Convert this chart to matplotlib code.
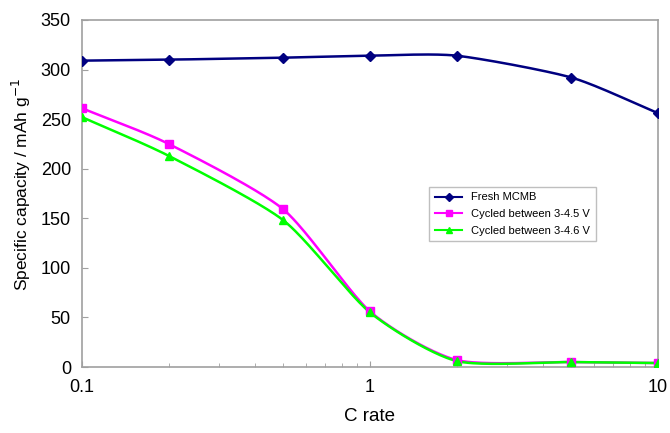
import numpy as np
import matplotlib.pyplot as plt
from matplotlib.ticker import FixedLocator, NullFormatter

plt.rcParams["font.family"] = ["Liberation Sans", "DejaVu Sans"]

c_rate = [0.1, 0.2, 0.5, 1, 2, 5, 10]
fresh = [309, 310, 312, 314, 314, 292, 256]
cycled_45 = [261, 225, 159, 56, 7, 5, 4]
cycled_46 = [252, 213, 148, 55, 6, 5, 4]


def smooth_curve(x, y, n=40):
    # Catmull-Rom through the points in log-x space (like Excel's smoothed line)
    lx = np.log10(np.asarray(x, dtype=float))
    yy = np.asarray(y, dtype=float)
    px = np.concatenate([[2 * lx[0] - lx[1]], lx, [2 * lx[-1] - lx[-2]]])
    py = np.concatenate([[2 * yy[0] - yy[1]], yy, [2 * yy[-1] - yy[-2]]])
    xs, ys = [], []
    for i in range(1, len(px) - 2):
        t = np.linspace(0, 1, n)
        p0, p1, p2, p3 = [np.array([px[j], py[j]]) for j in range(i - 1, i + 3)]
        m1 = (p2 - p0) / 2 * 0.7
        m2 = (p3 - p1) / 2 * 0.7
        h00 = 2 * t**3 - 3 * t**2 + 1
        h10 = t**3 - 2 * t**2 + t
        h01 = -2 * t**3 + 3 * t**2
        h11 = t**3 - t**2
        seg = (np.outer(h00, p1) + np.outer(h10, m1) + np.outer(h01, p2) + np.outer(h11, m2))
        xs.append(seg[:, 0])
        ys.append(seg[:, 1])
    return 10 ** np.concatenate(xs), np.concatenate(ys)


fig = plt.figure(figsize=(6.7, 4.33), dpi=100)
ax = fig.add_axes([82 / 670, 1 - 367 / 433, (658 - 82) / 670, (367 - 20) / 433])

series = [
    (fresh, "#000080", "D", 5, "Fresh MCMB"),
    (cycled_45, "#FF00FF", "s", 6, "Cycled between 3-4.5 V"),
    (cycled_46, "#00FF00", "^", 6, "Cycled between 3-4.6 V"),
]
for vals, col, mk, ms, lab in series:
    sx, sy = smooth_curve(c_rate, vals)
    ax.plot(sx, sy, color=col, lw=1.8, zorder=2)
    ax.plot(c_rate, vals, linestyle="none", marker=mk, ms=ms, color=col, zorder=3)
    ax.plot([], [], color=col, lw=1.5, marker=mk, ms=ms - 1, label=lab)

ax.set_xscale("log")
ax.set_xlim(0.1, 10)
ax.set_ylim(0, 350)
ax.set_yticks(range(0, 351, 50))
ax.xaxis.set_major_locator(FixedLocator([0.1, 1, 10]))
ax.set_xticklabels(["0.1", "1", "10"])
ax.xaxis.set_minor_locator(FixedLocator([0.2, 0.3, 0.4, 0.5, 0.6, 0.7, 0.8, 0.9,
                                          2, 3, 4, 5, 6, 7, 8, 9]))
ax.xaxis.set_minor_formatter(NullFormatter())

for sp in ax.spines.values():
    sp.set_color("#A0A0A0")
    sp.set_linewidth(1.2)
ax.tick_params(axis="both", which="major", direction="in", length=4, color="#A0A0A0",
               labelsize=13)
ax.tick_params(axis="x", which="major", pad=9)
ax.tick_params(axis="y", which="major", pad=8)
ax.tick_params(axis="x", which="minor", direction="in", length=3, color="#A0A0A0")

ax.set_xlabel("C rate", fontsize=13.5, labelpad=8)
ax.set_ylabel("Specific capacity / mAh g$^{-1}$", fontsize=12.5)
ax.yaxis.set_label_coords(-0.085, 0.527)

leg = ax.legend(loc="upper left", bbox_to_anchor=(0.593, 0.535), fontsize=8,
                frameon=True, fancybox=False, edgecolor="#B0B0B0",
                handlelength=2.5, borderpad=0.5, labelspacing=0.6)
leg.get_frame().set_linewidth(1.0)

fig.savefig("out.png", dpi=100)
